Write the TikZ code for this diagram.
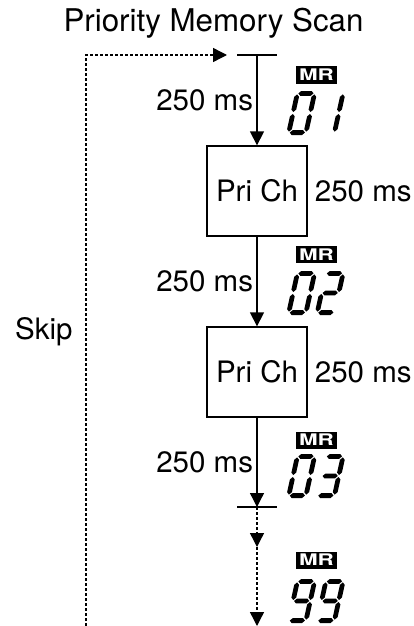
\documentclass[tikz,border=0pt]{standalone}
\usepackage{fontspec}
\setmainfont{TeX Gyre Heros}
\usetikzlibrary{arrows.meta}

\tikzset{
	flow/.style={line width=1.3pt,-{Triangle[length=14pt,width=14pt]}},
	skipline/.style={line width=1.4pt,dash pattern=on 3pt off 2pt},
	prich/.style={draw,line width=1.3pt,minimum width=100pt,minimum height=90pt,inner sep=0pt},
	mrbadge/.style={fill=black,text=white,font=\fontsize{16}{16}\selectfont\bfseries,minimum width=41pt,minimum height=17pt,inner sep=0pt},
}

% one bar of the lcd display
\newcommand{\lcdhbar}[3]{\fill (#1,#3) -- (#1+2.4,#3-2.4) -- (#2-2.4,#3-2.4) -- (#2,#3) -- (#2-2.4,#3+2.4) -- (#1+2.4,#3+2.4) -- cycle;}
\newcommand{\lcdvbar}[3]{\fill (#1,#2) -- (#1+2.4,#2+2.4) -- (#1+2.4,#3-2.4) -- (#1,#3) -- (#1-2.4,#3-2.4) -- (#1-2.4,#2+2.4) -- cycle;}
\newcommand{\lcda}{\lcdhbar{3.4}{18.6}{2.4}}
\newcommand{\lcdb}{\lcdvbar{19.6}{3.4}{21}}
\newcommand{\lcdc}{\lcdvbar{19.6}{23}{40.6}}
\newcommand{\lcdd}{\lcdhbar{3.4}{18.6}{41.6}}
\newcommand{\lcde}{\lcdvbar{2.4}{23}{40.6}}
\newcommand{\lcdf}{\lcdvbar{2.4}{3.4}{21}}
\newcommand{\lcdg}{\lcdhbar{3.4}{18.6}{22}}
\newcommand{\lcddigit}[3]{%
	\begin{scope}[shift={(#1,#2)},xslant=0.22]
		\foreach \sg in {#3} {\csname lcd\sg\endcsname}
	\end{scope}}

\begin{document}
\begin{tikzpicture}[x=1pt,y=-1pt,font=\fontsize{29.5}{29.5}\selectfont]
	\useasboundingbox (0,0) rectangle (414,626);
	\node[anchor=base,font=\fontsize{31.3}{31.3}\selectfont] (title) at (213.5,31.5) {Priority Memory Scan};
	\coordinate (start) at (257,55);
	\coordinate (loop) at (227,55);
	\coordinate (corner) at (86,55);
	\coordinate (bottom) at (86,626);
	\coordinate (tick) at (257,507);
	\coordinate (more) at (257,547);
	\coordinate (last) at (257,626);
	\node[prich] (pri1) at (257,191) {Pri Ch};
	\node[prich] (pri2) at (257,372) {Pri Ch};
	\node[right,inner xsep=7pt] (wait1) at (pri1.east) {250 ms};
	\node[right,inner xsep=7pt] (wait2) at (pri2.east) {250 ms};
	\draw[line width=1.3pt] ([xshift=-20pt]start) -- ([xshift=20pt]start);
	\draw[line width=1.3pt] ([xshift=-20pt]tick) -- ([xshift=20pt]tick);
	\draw[flow] (start) -- node[left] (step1) {250 ms} (pri1.north);
	\draw[flow] (pri1.south) -- node[left] (step2) {250 ms} (pri2.north);
	\draw[flow] (pri2.south) -- node[left] (step3) {250 ms} (tick);
	\draw[flow,skipline] (tick) -- (more);
	\draw[flow,skipline] (more) -- (last);
	\draw[flow,skipline] (bottom) -- (corner) -- (loop);
	\node[anchor=east] (skip) at (76,332) {Skip};
	\node[mrbadge] (mr1) at (316.5,75) {\scalebox{1.4}[1]{MR}};
	\node[mrbadge] (mr2) at (316.5,254.5) {\scalebox{1.4}[1]{MR}};
	\node[mrbadge] (mr3) at (316.5,440) {\scalebox{1.4}[1]{MR}};
	\node[mrbadge] (mr99) at (316.5,560) {\scalebox{1.4}[1]{MR}};
	\lcddigit{295.5}{91}{a,b,c,d,e,f}
	\lcddigit{324}{91}{b,c}
	\lcddigit{295.5}{271}{a,b,c,d,e,f}
	\lcddigit{324}{271}{a,b,g,e,d}
	\lcddigit{295.5}{454}{a,b,c,d,e,f}
	\lcddigit{324}{454}{a,b,g,c,d}
	\lcddigit{295.5}{579}{a,b,c,d,f,g}
	\lcddigit{324}{579}{a,b,c,d,f,g}
\end{tikzpicture}
\end{document}
